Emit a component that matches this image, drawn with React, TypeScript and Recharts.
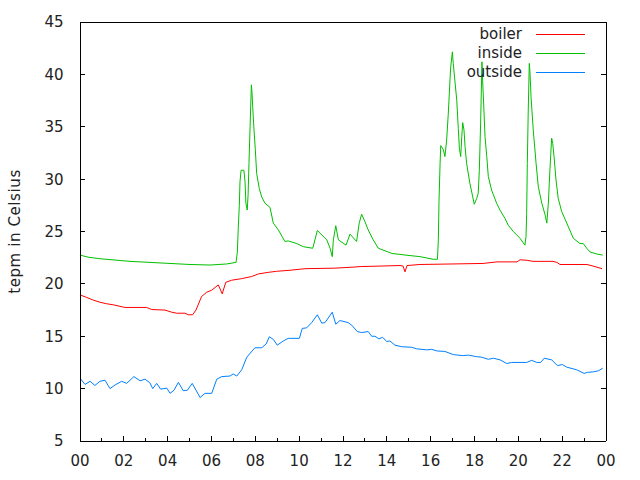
import { LineChart, Line, XAxis, YAxis, Legend, Label } from "recharts";

const FONT = "'DejaVu Sans', sans-serif";
const INK = "#222";

// hour of day -> temperature
const boilerHour = [
  0, 0.31, 0.61, 0.91, 1.22, 1.52, 2.05, 3.04, 3.27, 3.88, 4.18, 4.41, 4.79, 4.94, 5.14, 5.29, 5.55,
  5.78, 6.01, 6.31, 6.49, 6.65, 6.92, 7.38, 7.83, 8.14, 8.59, 8.97, 9.58, 10.27, 11.63, 12.46, 12.78,
  13.69, 14.6, 14.74, 14.83, 14.92, 15.51, 16.97, 18.39, 19.03, 19.94, 20.08, 20.4, 20.67, 21.58,
  21.76, 21.9, 23.13, 23.41, 23.82,
];
const boilerTemp = [
  18.95, 18.7, 18.45, 18.25, 18.1, 18.0, 17.75, 17.75, 17.55, 17.5, 17.3, 17.2, 17.2, 17.05, 17.05,
  17.5, 18.8, 19.2, 19.4, 19.9, 19.05, 20.15, 20.35, 20.5, 20.7, 20.95, 21.1, 21.2, 21.3, 21.45, 21.5,
  21.6, 21.65, 21.7, 21.75, 21.7, 21.15, 21.75, 21.85, 21.9, 21.95, 22.1, 22.1, 22.3, 22.25, 22.15,
  22.15, 22.05, 21.85, 21.85, 21.7, 21.45,
];

const insideHour = [
  0, 0.37, 0.91, 2.28, 3.65, 5.02, 5.93, 6.69, 7.12, 7.18, 7.22, 7.27, 7.3, 7.35, 7.48, 7.53, 7.57,
  7.63, 7.67, 7.71, 7.76, 7.82, 7.85, 7.88, 7.93, 8.0, 8.06, 8.18, 8.29, 8.44, 8.67, 8.82, 9.05, 9.35,
  9.5, 9.89, 10.19, 10.62, 10.83, 11.26, 11.41, 11.51, 11.56, 11.67, 11.79, 12.14, 12.32, 12.62,
  12.74, 12.85, 13.0, 13.15, 13.38, 13.61, 14.24, 15.06, 15.51, 16.11, 16.31, 16.35, 16.38, 16.43,
  16.46, 16.58, 16.65, 16.73, 16.8, 16.91, 16.99, 17.03, 17.11, 17.19, 17.26, 17.31, 17.37, 17.42,
  17.46, 17.52, 17.57, 17.64, 17.79, 17.92, 17.99, 18.1, 18.17, 18.22, 18.28, 18.34, 18.37, 18.43,
  18.48, 18.56, 18.63, 18.78, 19.01, 19.16, 19.39, 19.54, 19.77, 20.08, 20.3, 20.35, 20.38, 20.41,
  20.45, 20.5, 20.53, 20.58, 20.68, 20.81, 20.91, 21.07, 21.22, 21.3, 21.37, 21.44, 21.52, 21.57,
  21.63, 21.72, 21.82, 21.98, 22.21, 22.51, 22.81, 22.96, 23.12, 23.27, 23.58, 23.85,
];
const insideTemp = [
  22.75, 22.55, 22.4, 22.15, 22.0, 21.85, 21.8, 21.9, 22.05, 23.05, 25.3, 27.5, 29.75, 30.85, 30.85,
  29.75, 27.7, 27.05, 28.5, 31.5, 35.0, 39.0, 38.2, 36.9, 35.0, 32.8, 30.55, 29.1, 28.3, 27.7, 27.3,
  25.8, 25.15, 24.05, 24.1, 23.85, 23.55, 23.4, 25.1, 24.2, 23.4, 22.6, 24.2, 25.55, 24.2, 23.7,
  24.75, 24.05, 25.8, 26.65, 25.95, 25.15, 24.2, 23.4, 22.9, 22.7, 22.6, 22.35, 22.35, 24.2, 27.85,
  31.5, 33.2, 32.8, 32.15, 33.75, 36.1, 40.6, 42.15, 41.05, 39.3, 37.55, 34.85, 32.95, 32.15, 34.05,
  35.4, 34.7, 33.1, 31.5, 29.6, 28.3, 27.6, 28.15, 28.65, 30.85, 35.35, 41.2, 39.45, 36.6, 34.05,
  32.15, 30.25, 28.95, 27.7, 27.05, 26.25, 25.6, 25.0, 24.35, 23.7, 24.5, 26.7, 31.5, 36.3, 41.05,
  40.25, 37.85, 34.7, 31.5, 29.3, 27.7, 26.6, 25.8, 27.7, 30.85, 33.9, 33.4, 32.15, 29.9, 28.15, 26.9,
  25.8, 24.35, 23.85, 23.85, 23.4, 23.05, 22.85, 22.75,
];

const outsideHour = [
  0, 0.23, 0.46, 0.68, 0.91, 1.14, 1.37, 1.6, 1.9, 2.13, 2.46, 2.74, 2.97, 3.19, 3.32, 3.5, 3.68,
  3.96, 4.11, 4.29, 4.49, 4.71, 4.9, 5.12, 5.48, 5.7, 6.01, 6.24, 6.47, 6.84, 6.99, 7.15, 7.38, 7.61,
  7.98, 8.29, 8.49, 8.64, 8.82, 9.0, 9.28, 9.5, 10.01, 10.14, 10.34, 10.57, 10.83, 11.03, 11.18,
  11.51, 11.67, 11.86, 12.24, 12.4, 12.65, 12.85, 13.15, 13.31, 13.46, 13.64, 13.81, 13.99, 14.14,
  14.37, 14.68, 15.13, 15.36, 15.82, 16.05, 16.28, 16.65, 17.03, 17.46, 17.72, 18.1, 18.33, 18.63,
  18.86, 19.16, 19.47, 19.7, 20.38, 20.61, 20.84, 21.02, 21.18, 21.52, 21.78, 22.01, 22.21, 22.66,
  23.0, 23.15, 23.42, 23.65, 23.85,
];
const outsideTemp = [
  11.0, 10.4, 10.7, 10.3, 10.7, 10.8, 10.0, 10.35, 10.7, 10.5, 11.15, 10.75, 10.9, 10.55, 10.0, 10.5,
  9.95, 10.05, 9.55, 9.85, 10.6, 9.8, 9.85, 10.5, 9.15, 9.55, 9.55, 10.9, 11.15, 11.2, 11.4, 11.2,
  11.8, 13.0, 13.9, 13.9, 14.25, 14.95, 14.7, 14.15, 14.55, 14.8, 14.8, 15.75, 15.8, 16.3, 17.05,
  16.25, 16.3, 17.3, 16.15, 16.5, 16.3, 16.05, 15.45, 15.35, 15.45, 15.0, 15.0, 14.75, 14.9, 14.5,
  14.55, 14.15, 14.0, 13.95, 13.8, 13.7, 13.75, 13.6, 13.55, 13.25, 13.15, 13.2, 13.05, 13.0, 12.8,
  12.9, 12.75, 12.4, 12.5, 12.5, 12.7, 12.5, 12.5, 12.9, 12.75, 12.2, 12.3, 12.05, 11.8, 11.45,
  11.55, 11.6, 11.7, 11.95,
];

const hourTicks = Array.from({ length: 25 }, (_, i) => i);
const tempTicks = [5, 10, 15, 20, 25, 30, 35, 40, 45];

const toPoints = (hours: number[], temps: number[]) => hours.map((h, i) => ({ h, t: temps[i] }));
const fmtHour = (h: number) => String(h % 24).padStart(2, "0");

const textStyle = { fontFamily: FONT, fontSize: 15, fill: INK };

// gnuplot style: ticks point into the plot, labels only on the bottom/left
function BottomTick({ x, y, payload }: any) {
  const major = payload.value % 2 === 0;
  return (
    <g>
      <line x1={x} x2={x} y1={y} y2={y - (major ? 5 : 3)} stroke="#000" shapeRendering="crispEdges" />
      {major && (
        <text x={x} y={y + 24.5} textAnchor="middle" {...textStyle}>
          {fmtHour(payload.value)}
        </text>
      )}
    </g>
  );
}

function TopTick({ x, y, payload }: any) {
  const major = payload.value % 2 === 0;
  return <line x1={x} x2={x} y1={y} y2={y + (major ? 5 : 3)} stroke="#000" shapeRendering="crispEdges" />;
}

function LeftTick({ x, y, payload }: any) {
  return (
    <g>
      <line x1={x} x2={x + 5} y1={y} y2={y} stroke="#000" shapeRendering="crispEdges" />
      <text x={x - 16.5} y={y + 5.4} textAnchor="end" {...textStyle}>
        {payload.value}
      </text>
    </g>
  );
}

function RightTick({ x, y }: any) {
  return <line x1={x} x2={x - 5} y1={y} y2={y} stroke="#000" shapeRendering="crispEdges" />;
}

function YTitle({ viewBox }: any) {
  const cx = viewBox.x + 19.5;
  const cy = viewBox.y + viewBox.height / 2;
  return (
    <text x={cx} y={cy} transform={`rotate(-90 ${cx} ${cy})`} textAnchor="middle" {...textStyle} letterSpacing={0.6}>
      tepm in Celsius
    </text>
  );
}

function KeyBox({ payload }: any) {
  return (
    <div style={{ fontFamily: FONT, fontSize: 15, color: INK }}>
      {(payload || []).map((e: any) => (
        <div key={e.value} style={{ display: "flex", alignItems: "center", height: 19 }}>
          <span style={{ width: 100, textAlign: "right", lineHeight: "19px" }}>{e.value}</span>
          <span style={{ width: 49, height: 0, borderTop: `1px solid ${e.color}`, marginLeft: 14 }} />
        </div>
      ))}
    </div>
  );
}

export default function App() {
  const axisLine = { stroke: "#000", shapeRendering: "crispEdges" };
  return (
    <div style={{ position: "absolute", left: 0, top: 0, background: "#fff" }}>
      <LineChart width={640} height={480} margin={{ top: 22, right: 34, bottom: 0, left: 0 }}>
        <XAxis
          dataKey="h"
          type="number"
          domain={[0, 24]}
          allowDataOverflow
          ticks={hourTicks}
          interval={0}
          height={39}
          tickSize={0}
          tickMargin={0}
          tickLine={false}
          axisLine={axisLine}
          tick={<BottomTick />}
        />
        <XAxis
          xAxisId="top"
          orientation="top"
          mirror
          type="number"
          domain={[0, 24]}
          allowDataOverflow
          ticks={hourTicks}
          interval={0}
          height={1}
          tickSize={0}
          tickMargin={0}
          tickLine={false}
          axisLine={axisLine}
          tick={<TopTick />}
        />
        <YAxis
          type="number"
          domain={[5, 45]}
          allowDataOverflow
          ticks={tempTicks}
          interval={0}
          width={80}
          tickSize={0}
          tickMargin={0}
          tickLine={false}
          axisLine={axisLine}
          tick={<LeftTick />}
        >
          <Label content={<YTitle />} />
        </YAxis>
        <YAxis
          yAxisId="right"
          orientation="right"
          mirror
          type="number"
          domain={[5, 45]}
          allowDataOverflow
          ticks={tempTicks}
          interval={0}
          width={1}
          tickSize={0}
          tickMargin={0}
          tickLine={false}
          axisLine={axisLine}
          tick={<RightTick />}
        />
        <Legend
          layout="vertical"
          align="center"
          verticalAlign="middle"
          wrapperStyle={{ left: 422, top: 25, width: 180 }}
          content={<KeyBox />}
        />
        <Line
          data={toPoints(boilerHour, boilerTemp)}
          dataKey="t"
          name="boiler"
          type="linear"
          stroke="#ff0000"
          strokeWidth={1}
          dot={false}
          activeDot={false}
          isAnimationActive={false}
        />
        <Line
          data={toPoints(insideHour, insideTemp)}
          dataKey="t"
          name="inside"
          type="linear"
          stroke="#00c000"
          strokeWidth={1}
          dot={false}
          activeDot={false}
          isAnimationActive={false}
        />
        <Line
          data={toPoints(outsideHour, outsideTemp)}
          dataKey="t"
          name="outside"
          type="linear"
          stroke="#0080ff"
          strokeWidth={1}
          dot={false}
          activeDot={false}
          isAnimationActive={false}
        />
      </LineChart>
    </div>
  );
}
